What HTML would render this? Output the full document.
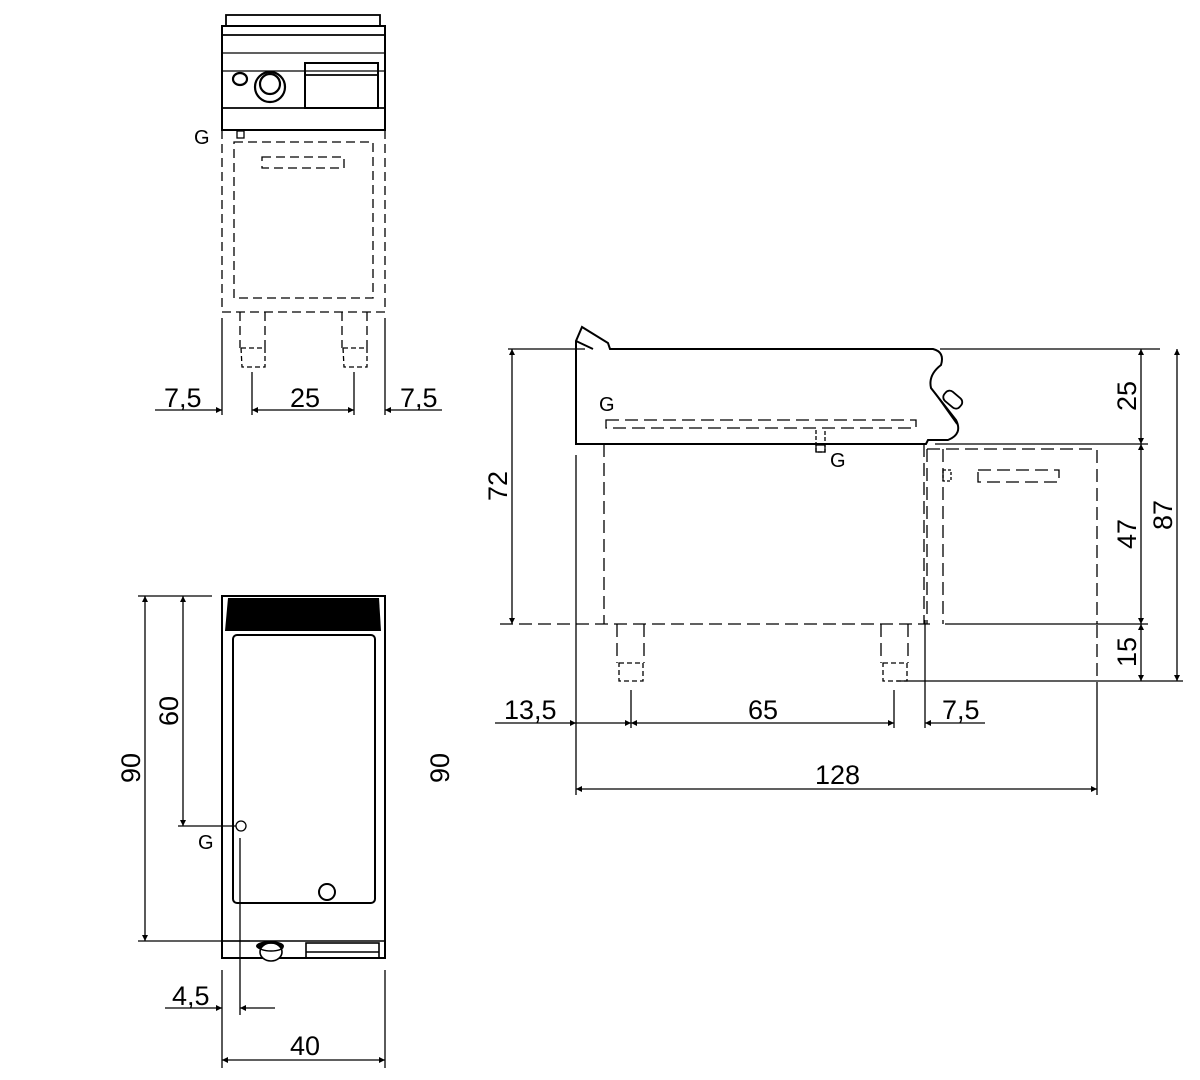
<!DOCTYPE html>
<html><head><meta charset="utf-8"><style>
html,body{margin:0;padding:0;background:#fff;}
svg{display:block}
text{font-family:"Liberation Sans Narrow","Liberation Sans",sans-serif;font-size:27px;fill:#000}
.g{font-family:"Liberation Sans",sans-serif;font-size:20px}
</style></head><body>
<svg width="1200" height="1080" viewBox="0 0 1200 1080" xmlns="http://www.w3.org/2000/svg">
<defs>
<marker id="a" viewBox="0 0 10 10" refX="10" refY="5" markerWidth="16" markerHeight="6" markerUnits="userSpaceOnUse" orient="auto-start-reverse"><path d="M0,0 L10,5 L0,10 z" fill="#000"/></marker>
</defs>
<g fill="none" stroke="#000" stroke-width="1.3">
<!-- TOP VIEW -->
<rect x="226" y="15" width="154" height="11" stroke-width="1.8"/>
<rect x="222" y="26" width="163" height="104" stroke-width="2"/>
<line x1="222" y1="35" x2="385" y2="35" stroke-width="1.8"/>
<line x1="222" y1="53" x2="385" y2="53"/>
<line x1="222" y1="71" x2="385" y2="71"/>
<line x1="222" y1="108" x2="385" y2="108" stroke-width="1.8"/>
<ellipse cx="240" cy="79" rx="7" ry="6" stroke-width="2.2"/>
<circle cx="270" cy="87" r="15" stroke-width="2.2"/>
<circle cx="270" cy="84" r="10" stroke-width="2.2"/>
<rect x="305" y="63" width="73" height="45" stroke-width="2"/>
<line x1="305" y1="75" x2="378" y2="75" stroke-width="1.8"/>
<rect x="237" y="131" width="7" height="7"/>
<g stroke-dasharray="9,5">
<path d="M222,130 V312 H385 V130"/>
<rect x="234" y="142" width="139" height="156"/>
<rect x="262" y="157" width="82" height="11"/>
<path d="M240,312 V348 M265,312 V348 M342,312 V348 M367,312 V348"/>
<path d="M241,348 H265 V367 H242 Z M343,348 H367 V367 H344 Z" stroke-dasharray="5,3"/>
</g>
<path d="M222,318 V415 M385,318 V415"/>
<path d="M252,372 V415 M354,372 V415"/>
<line x1="155" y1="410" x2="222" y2="410" marker-end="url(#a)"/>
<line x1="252" y1="410" x2="354" y2="410" marker-start="url(#a)" marker-end="url(#a)"/>
<line x1="385" y1="410" x2="442" y2="410" marker-start="url(#a)"/>

<!-- FRONT VIEW -->
<path d="M576,444 V341 L582,327 L608,343 L610,349 H933 Q945,352 941,365 Q928,375 931,388 L956,420 Q963,434 948,440 L928,440 L926,444 Z" stroke-width="2"/>
<path d="M576,341 L593,349" stroke-width="1.8"/>
<rect x="-9" y="-6" width="20" height="12" rx="5" transform="translate(952,399) rotate(40)" stroke-width="1.8"/>
<line x1="935" y1="393" x2="957" y2="424" stroke-width="1.6"/>
<line x1="940" y1="349" x2="1160" y2="349"/>
<line x1="508" y1="349" x2="585" y2="349"/>
<g stroke-dasharray="13,6">
<rect x="606" y="420" width="310" height="8"/>
<path d="M604,444 V624 M924,444 V624 M500,624 H930"/>
<path d="M927,449 V624 M943,449 V624 M927,449 H1097 V624"/>
<rect x="978" y="470" width="81" height="12"/>
<path d="M617,624 V663 M644,624 V663 M881,624 V663 M908,624 V663"/>
<path d="M619,663 H643 V681 H619 Z M883,663 H907 V681 H883 Z" stroke-dasharray="5,3"/>
<path d="M1097,625 V690"/>
</g>
<rect x="943" y="470" width="8" height="11" stroke-dasharray="3,2"/>
<path d="M816,430 V452 H825 V430" stroke-dasharray="4,2"/>
<rect x="816" y="445" width="9" height="7"/>
<line x1="935" y1="444" x2="1148" y2="444"/>
<line x1="945" y1="624" x2="1148" y2="624"/>
<line x1="897" y1="681" x2="1183" y2="681"/>
<line x1="1141" y1="349" x2="1141" y2="444" marker-start="url(#a)" marker-end="url(#a)"/>
<line x1="1141" y1="444" x2="1141" y2="624" marker-start="url(#a)" marker-end="url(#a)"/>
<line x1="1141" y1="624" x2="1141" y2="681" marker-start="url(#a)" marker-end="url(#a)"/>
<line x1="1177" y1="349" x2="1177" y2="681" marker-start="url(#a)" marker-end="url(#a)"/>
<line x1="512" y1="349" x2="512" y2="624" marker-start="url(#a)" marker-end="url(#a)"/>
<line x1="576" y1="455" x2="576" y2="795"/>
<line x1="925" y1="620" x2="925" y2="728"/>
<line x1="631" y1="690" x2="631" y2="728"/>
<line x1="894" y1="690" x2="894" y2="728"/>
<line x1="1097" y1="690" x2="1097" y2="795"/>
<line x1="495" y1="723" x2="576" y2="723" marker-end="url(#a)"/>
<line x1="576" y1="723" x2="631" y2="723" marker-end="url(#a)"/>
<line x1="631" y1="723" x2="894" y2="723" marker-start="url(#a)" marker-end="url(#a)"/>
<line x1="925" y1="723" x2="985" y2="723" marker-start="url(#a)"/>
<line x1="576" y1="789" x2="1097" y2="789" marker-start="url(#a)" marker-end="url(#a)"/>

<!-- PLAN VIEW -->
<rect x="222" y="596" width="163" height="362" stroke-width="2"/>
<rect x="233" y="635" width="142" height="268" rx="4" stroke-width="2"/>
<line x1="222" y1="941" x2="385" y2="941" stroke-width="1.6"/>
<circle cx="241" cy="826" r="5"/>
<circle cx="327" cy="892" r="8" stroke-width="2"/>
<rect x="306" y="943" width="73" height="15" stroke-width="1.6"/>
<line x1="306" y1="952" x2="379" y2="952" stroke-width="1.6"/>
<line x1="145" y1="596" x2="145" y2="941" marker-start="url(#a)" marker-end="url(#a)"/>
<line x1="183" y1="596" x2="183" y2="826" marker-start="url(#a)" marker-end="url(#a)"/>
<line x1="138" y1="596" x2="212" y2="596"/>
<line x1="178" y1="826" x2="236" y2="826"/>
<line x1="138" y1="941" x2="250" y2="941"/>
<line x1="240" y1="838" x2="240" y2="1015"/>
<line x1="222" y1="970" x2="222" y2="1068"/>
<line x1="385" y1="970" x2="385" y2="1068"/>
<line x1="165" y1="1008" x2="222" y2="1008" marker-end="url(#a)"/>
<line x1="240" y1="1008" x2="275" y2="1008" marker-start="url(#a)"/>
<line x1="222" y1="1060" x2="385" y2="1060" marker-start="url(#a)" marker-end="url(#a)"/>
</g>
<polygon points="228,598 379,598 381,631 225,631" fill="#000"/>
<g fill="#000"><ellipse cx="270" cy="946" rx="14" ry="5"/><ellipse cx="271" cy="952" rx="11" ry="9" fill="#fff" stroke="#000" stroke-width="1.6"/><ellipse cx="271" cy="947" rx="12" ry="4" fill="none" stroke="#000" stroke-width="1.4"/></g>

<!-- TEXT -->
<text class="g" x="194" y="144">G</text>
<text x="164" y="407">7,5</text>
<text x="290" y="407">25</text>
<text x="400" y="407">7,5</text>
<text class="g" x="599" y="411">G</text>
<text class="g" x="830" y="467">G</text>
<text x="504" y="719">13,5</text>
<text x="748" y="719">65</text>
<text x="942" y="719">7,5</text>
<text x="815" y="784">128</text>
<text transform="translate(507,486) rotate(-90)" text-anchor="middle">72</text>
<text transform="translate(1136,396) rotate(-90)" text-anchor="middle">25</text>
<text transform="translate(1136,534) rotate(-90)" text-anchor="middle">47</text>
<text transform="translate(1136,652) rotate(-90)" text-anchor="middle">15</text>
<text transform="translate(1172,515) rotate(-90)" text-anchor="middle">87</text>
<text transform="translate(140,768) rotate(-90)" text-anchor="middle">90</text>
<text transform="translate(178,711) rotate(-90)" text-anchor="middle">60</text>
<text transform="translate(449,768) rotate(-90)" text-anchor="middle">90</text>
<text class="g" x="198" y="849">G</text>
<text x="172" y="1005">4,5</text>
<text x="290" y="1055">40</text>
</svg>
</body></html>
